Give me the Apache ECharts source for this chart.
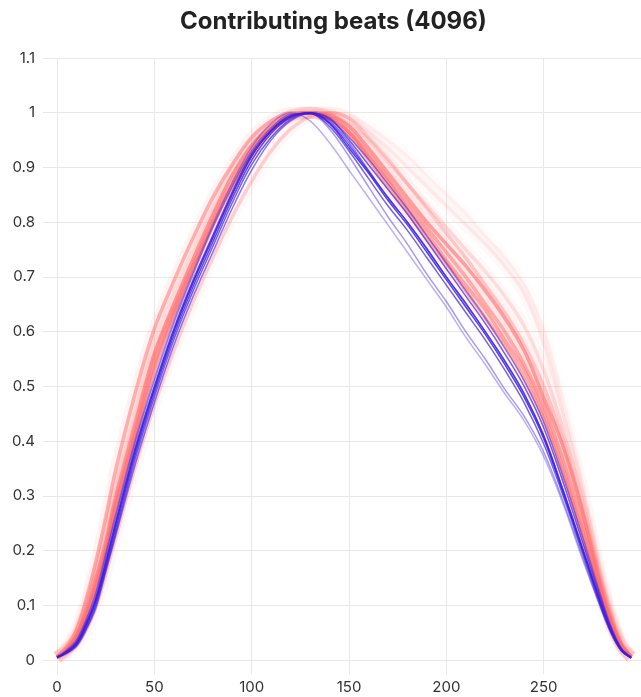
<!DOCTYPE html>
<html>
<head>
<meta charset="utf-8">
<title>Contributing beats</title>
<script src="https://cdn.jsdelivr.net/npm/echarts@6/dist/echarts.min.js"></script>
<style>
  html, body { margin: 0; padding: 0; background: #fff; }
  #chart { width: 641px; height: 697px; }
</style>
</head>
<body>
<div id="chart"></div>
<script>
// Sample positions (samples along the beat) shared by every waveform
const sampleX = [0, 5, 10, 15, 20, 25, 30, 40, 50, 60, 70, 80, 90, 100, 110, 120, 130, 140, 150,
                 160, 170, 180, 190, 200, 210, 220, 230, 240, 250, 260, 270, 280, 285, 290, 295];

// Tick labels
const xTicks = ['0', '50', '100', '150', '200', '250'];
const yTicks = ['0', '0.1', '0.2', '0.3', '0.4', '0.5', '0.6', '0.7', '0.8', '0.9', '1', '1.1'];

// Contributing beats (normalised amplitude)
const beatR0 = [0.005,0.02,0.045,0.09,0.15,0.215,0.295,0.43,0.56,0.65,0.733,0.813,0.885,0.94,0.975,0.995,1.0,0.995,0.975,0.935,0.89,0.845,0.80,0.76,0.72,0.675,0.625,0.565,0.48,0.39,0.27,0.125,0.07,0.028,0.006];
const beatR1 = [0.006,0.025,0.055,0.11,0.18,0.26,0.345,0.485,0.605,0.692,0.772,0.845,0.905,0.955,0.985,1.0,1.0,0.99,0.965,0.92,0.875,0.825,0.78,0.73,0.685,0.64,0.585,0.53,0.45,0.35,0.225,0.11,0.06,0.023,0.005];
const beatR2 = [0.005,0.02,0.045,0.09,0.145,0.21,0.29,0.42,0.555,0.645,0.725,0.805,0.875,0.93,0.97,0.992,1.0,1.0,0.99,0.965,0.935,0.90,0.865,0.83,0.795,0.76,0.72,0.67,0.58,0.45,0.31,0.145,0.08,0.03,0.006];
const beatR3 = [0.005,0.017,0.038,0.078,0.13,0.195,0.27,0.405,0.53,0.63,0.715,0.795,0.865,0.925,0.968,0.993,1.0,0.992,0.965,0.925,0.88,0.835,0.79,0.745,0.70,0.65,0.60,0.54,0.465,0.365,0.25,0.12,0.065,0.025,0.005];
const beatR4 = [0.004,0.012,0.026,0.055,0.095,0.155,0.22,0.35,0.465,0.565,0.655,0.735,0.81,0.875,0.93,0.97,0.993,1.0,0.99,0.955,0.915,0.87,0.825,0.78,0.735,0.685,0.635,0.575,0.50,0.40,0.275,0.135,0.075,0.028,0.006];
const beatR5 = [0.006,0.022,0.05,0.10,0.165,0.235,0.32,0.455,0.59,0.675,0.755,0.83,0.895,0.948,0.98,0.997,1.0,1.0,0.995,0.975,0.95,0.92,0.885,0.85,0.815,0.775,0.735,0.685,0.60,0.47,0.32,0.15,0.085,0.032,0.007];
const beatR6 = [0.005,0.019,0.042,0.085,0.14,0.205,0.285,0.415,0.55,0.64,0.72,0.80,0.87,0.928,0.968,0.99,1.0,0.997,0.98,0.95,0.91,0.87,0.83,0.79,0.75,0.71,0.665,0.61,0.53,0.42,0.29,0.14,0.078,0.03,0.006];
const beatR7 = [0.005,0.018,0.04,0.082,0.135,0.20,0.28,0.41,0.54,0.635,0.72,0.80,0.87,0.93,0.97,0.994,1.0,0.99,0.96,0.915,0.865,0.82,0.77,0.725,0.675,0.625,0.575,0.515,0.44,0.34,0.235,0.115,0.062,0.024,0.005];

const beatB0 = [0.005,0.015,0.03,0.065,0.11,0.175,0.245,0.38,0.495,0.60,0.69,0.77,0.85,0.92,0.966,0.993,1.0,0.98,0.935,0.89,0.84,0.795,0.745,0.695,0.645,0.595,0.54,0.48,0.405,0.305,0.20,0.095,0.05,0.018,0.004];
const beatB1 = [0.005,0.017,0.035,0.072,0.12,0.19,0.26,0.395,0.51,0.615,0.705,0.79,0.865,0.93,0.972,0.997,0.998,0.97,0.92,0.865,0.81,0.76,0.705,0.655,0.60,0.55,0.495,0.445,0.38,0.29,0.188,0.089,0.046,0.016,0.004];
const beatB2 = [0.004,0.013,0.027,0.058,0.10,0.165,0.23,0.365,0.48,0.585,0.675,0.755,0.835,0.905,0.955,0.988,1.0,0.99,0.95,0.905,0.86,0.815,0.765,0.715,0.665,0.615,0.56,0.50,0.425,0.325,0.215,0.105,0.055,0.02,0.005];
const beatB3 = [0.004,0.012,0.025,0.055,0.095,0.16,0.225,0.355,0.47,0.575,0.665,0.745,0.825,0.895,0.95,0.985,0.999,0.985,0.945,0.895,0.845,0.80,0.75,0.70,0.65,0.60,0.545,0.485,0.41,0.31,0.205,0.10,0.052,0.019,0.004];
const beatB4 = [0.005,0.015,0.031,0.066,0.112,0.178,0.248,0.383,0.498,0.603,0.693,0.775,0.853,0.922,0.968,0.994,1.0,0.988,0.955,0.915,0.87,0.825,0.775,0.725,0.675,0.625,0.57,0.51,0.435,0.335,0.225,0.11,0.058,0.021,0.005];
const beatB5 = [0.006,0.018,0.037,0.075,0.125,0.195,0.265,0.40,0.515,0.62,0.71,0.795,0.872,0.937,0.98,1.0,0.985,0.945,0.895,0.845,0.795,0.745,0.695,0.645,0.59,0.54,0.487,0.437,0.372,0.285,0.183,0.088,0.045,0.016,0.004];
const beatB6 = [0.005,0.014,0.029,0.062,0.106,0.17,0.238,0.373,0.488,0.593,0.683,0.763,0.843,0.913,0.962,0.991,1.0,0.982,0.94,0.893,0.845,0.80,0.752,0.70,0.652,0.60,0.547,0.487,0.41,0.31,0.203,0.098,0.051,0.018,0.004];
const beatB7 = [0.005,0.016,0.032,0.068,0.114,0.18,0.25,0.386,0.50,0.605,0.695,0.775,0.855,0.925,0.968,0.995,0.998,0.975,0.93,0.88,0.83,0.785,0.735,0.685,0.635,0.585,0.53,0.47,0.395,0.30,0.195,0.092,0.048,0.017,0.004];

const redBeats = [beatR0, beatR1, beatR2, beatR3, beatR4, beatR5, beatR6, beatR7];
const blueBeats = [beatB0, beatB1, beatB2, beatB3, beatB4, beatB5, beatB6, beatB7];

// Per-beat opacity: faint halo, red trace, blue trace
const redHazeAlpha = [0.09, 0.08, 0.03, 0.08, 0.05, 0.025, 0.04, 0.08];
const redLineAlpha = [0.6, 0.5, 0.12, 0.5, 0.3, 0.08, 0.2, 0.5];
const blueLineAlpha = [0.85, 0.45, 0.7, 0.6, 0.5, 0.35, 0.8, 0.7];

function toPoints(ys) {
  return sampleX.map((x, i) => [x, ys[i]]);
}

function beatSeries(ys, color, width) {
  return {
    type: 'line',
    data: toPoints(ys),
    smooth: 0.35,
    showSymbol: false,
    silent: true,
    lineStyle: { color: color, width: width, cap: 'butt', join: 'round' },
    z: 2
  };
}

const series = [];
redBeats.forEach((ys, i) => series.push(beatSeries(ys, 'rgba(255,110,110,' + redHazeAlpha[i] + ')', 12)));
redBeats.forEach((ys, i) => series.push(beatSeries(ys, 'rgba(255,105,105,' + redLineAlpha[i] + ')', 3.5)));
blueBeats.forEach((ys, i) => series.push(beatSeries(ys, 'rgba(60,30,225,' + blueLineAlpha[i] + ')', 1.5)));

const gridColor = '#e8e8e8';
const labelFont = 'Inter, "Noto Sans", sans-serif';

const chart = echarts.init(document.getElementById('chart'), null, { renderer: 'canvas' });
chart.setOption({
  animation: false,
  backgroundColor: '#ffffff',
  title: {
    text: 'Contributing beats (4096)',
    left: 175,
    top: 5,
    textStyle: { fontFamily: labelFont, fontSize: 24, fontWeight: 'bold', color: '#222' }
  },
  grid: { left: 57, right: -9, top: 58, bottom: 37 },
  xAxis: {
    type: 'value',
    min: 0,
    max: 300,
    interval: 50,
    axisLine: { show: false },
    axisTick: { show: true, length: 14, lineStyle: { color: gridColor, width: 1 } },
    splitLine: { show: true, lineStyle: { color: gridColor, width: 1 } },
    axisLabel: {
      showMaxLabel: false,
      margin: 20,
      fontFamily: labelFont,
      fontSize: 15,
      color: '#333',
      formatter: v => xTicks[Math.round(v / 50)] || ''
    }
  },
  yAxis: {
    type: 'value',
    min: 0,
    max: 1.1,
    interval: 0.1,
    axisLine: { show: false },
    axisTick: { show: true, length: 14, lineStyle: { color: gridColor, width: 1 } },
    splitLine: { show: true, lineStyle: { color: gridColor, width: 1 } },
    axisLabel: {
      margin: 22,
      fontFamily: labelFont,
      fontSize: 15,
      color: '#333',
      formatter: v => yTicks[Math.round(v * 10)] || ''
    }
  },
  series: series
});
</script>
</body>
</html>
